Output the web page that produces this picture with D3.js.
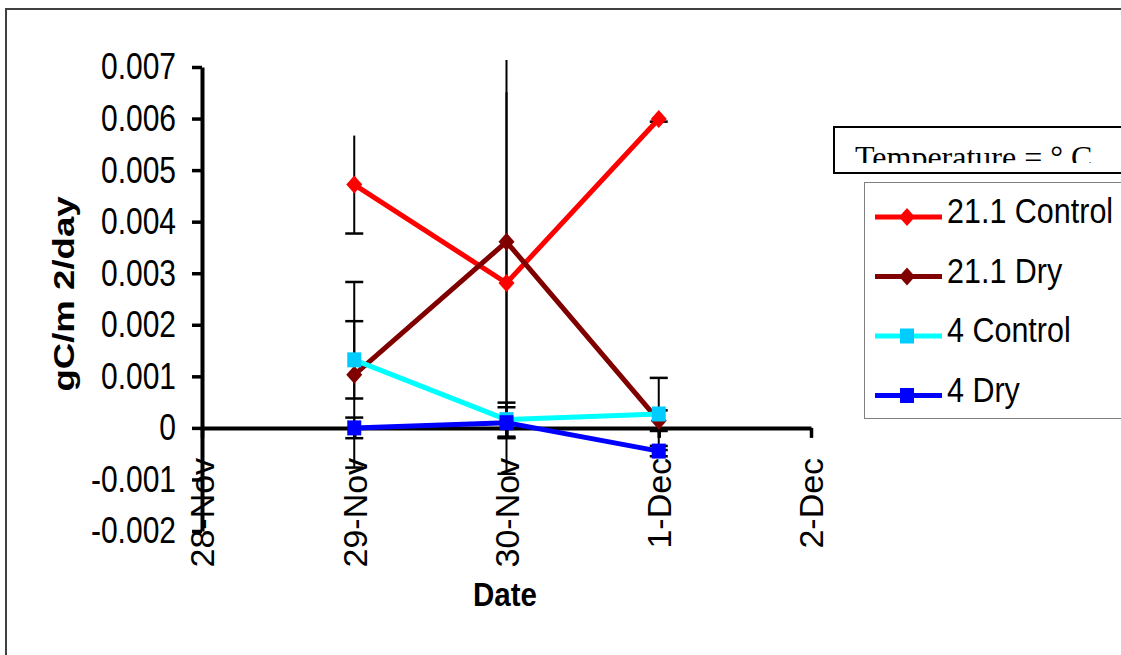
<!DOCTYPE html>
<html>
<head>
<meta charset="utf-8">
<script src="https://cdn.jsdelivr.net/npm/d3@7"></script>
<style>
  body { margin: 0; background: #fff; }
  text { font-family: Arial, "Liberation Sans", sans-serif; fill: #000; }
</style>
</head>
<body>
<div id="chart"></div>
<script>
const dates = ["28-Nov", "29-Nov", "30-Nov", "1-Dec", "2-Dec"];
const pointDates = ["29-Nov", "30-Nov", "1-Dec"];
const seriesNames = ["21.1 Control", "21.1 Dry", "4 Control", "4 Dry"];
const control211 = [0.00472, 0.00281, 0.00599];
const dry211 = [0.00103, 0.00361, 0.00014];
const control4 = [0.00132, 0.00016, 0.00027];
const dry4 = [0.0, 0.0001, -0.00045];
const errControl211 = [0.00095, 0.0037, 0.00005];
const errDry211 = [0.0018, 0.0038, 0.0002];
const errControl4 = [0.00075, 0.00033, 0.0007];
const errDry4 = [0.0002, 0.0003, 0.0001];
const yTicks = [-0.002, -0.001, 0, 0.001, 0.002, 0.003, 0.004, 0.005, 0.006, 0.007];
const legendTitle = "Temperature = \u00b0 C";

const width = 1121;
const height = 655;

// caps: which ends of the error bars get a cap (+1 top, -1 bottom)
const series = [
    { name: seriesNames[0], values: control211, err: errControl211, line: "#ff0000", fill: "#ff0000", shape: "diamond", caps: [-1] },
    { name: seriesNames[1], values: dry211, err: errDry211, line: "#800000", fill: "#800000", shape: "diamond", caps: [1, -1] },
    { name: seriesNames[2], values: control4, err: errControl4, line: "#00ffff", fill: "#00ccff", shape: "square", caps: [1, -1] },
    { name: seriesNames[3], values: dry4, err: errDry4, line: "#0000ff", fill: "#0000ff", shape: "square", caps: [1, -1] },
];

const svg = d3
    .select("#chart")
    .append("svg")
    .attr("width", width)
    .attr("height", height);

// outer frame (runs off the right and bottom edge)
svg.append("rect")
    .attr("x", 6)
    .attr("y", 9)
    .attr("width", 1200)
    .attr("height", 800)
    .attr("fill", "none")
    .attr("stroke", "#404040")
    .attr("stroke-width", 2);

const x = d3.scalePoint().domain(dates).range([202, 811]);
const y = d3.scaleLinear().domain([-0.002, 0.007]).range([531, 67]);

const defs = svg.append("defs");
defs.append("clipPath").attr("id", "plotClip")
    .append("rect").attr("x", 180).attr("y", 60).attr("width", 660).attr("height", 480);
defs.append("clipPath").attr("id", "titleClip")
    .append("rect").attr("x", 834).attr("y", 127).attr("width", 400).attr("height", 36);

// y axis
const yAxisGroup = svg.append("g").attr("transform", "translate(202,0)");
yAxisGroup.call(
    d3.axisLeft(y)
        .tickValues(yTicks)
        .tickSize(10)
        .tickSizeOuter(0)
        .tickPadding(16)
        .tickFormat((d) => (d === 0 ? "0" : String(+d.toFixed(3))))
);
yAxisGroup.select(".domain").attr("stroke-width", 4);
yAxisGroup.selectAll(".tick line").attr("stroke-width", 3.5);
yAxisGroup.selectAll(".tick text")
    .attr("font-size", "30px")
    .attr("font-family", "Arial, 'Liberation Sans', sans-serif")
    .attr("transform", "scale(1,1.24)");

// x axis at zero
const xAxisGroup = svg.append("g").attr("transform", `translate(0,${y(0)})`);
xAxisGroup.call(d3.axisBottom(x).tickSize(10).tickSizeOuter(0));
xAxisGroup.select(".domain").attr("stroke-width", 4);
xAxisGroup.selectAll(".tick line").attr("stroke-width", 3.5);
xAxisGroup.selectAll(".tick text")
    .attr("font-size", "34px")
    .attr("font-family", "Arial, 'Liberation Sans', sans-serif")
    .attr("x", 0)
    .attr("y", 0)
    .attr("dy", "0.35em")
    .attr("text-anchor", "end")
    .attr("transform", "translate(0,30) rotate(-90)");

// axis titles
svg.append("text")
    .text("gC/m 2/day")
    .attr("font-size", "30px")
    .attr("font-weight", "bold")
    .attr("text-anchor", "middle")
    .attr("transform", "translate(74,294) scale(1,1.22) rotate(-90)");

svg.append("text")
    .text("Date")
    .attr("font-size", "29.5px")
    .attr("font-weight", "bold")
    .attr("text-anchor", "middle")
    .attr("transform", "translate(505,606) scale(1,1.14)");

// error bars
const errGroup = svg.append("g").attr("clip-path", "url(#plotClip)");
series.forEach((s) => {
    const pts = pointDates.map((d, i) => ({ date: d, v: s.values[i], e: s.err[i] }));
    errGroup.append("g").selectAll("line").data(pts).enter()
        .append("line")
        .attr("x1", (d) => x(d.date))
        .attr("x2", (d) => x(d.date))
        .attr("y1", (d) => y(d.v + d.e))
        .attr("y2", (d) => y(d.v - d.e))
        .attr("stroke", "#000")
        .attr("stroke-width", 2);
    s.caps.forEach((sign) => {
        errGroup.append("g").selectAll("line").data(pts).enter()
            .append("line")
            .attr("x1", (d) => x(d.date) - 9)
            .attr("x2", (d) => x(d.date) + 9)
            .attr("y1", (d) => y(d.v + sign * d.e))
            .attr("y2", (d) => y(d.v + sign * d.e))
            .attr("stroke", "#000")
            .attr("stroke-width", 2.5);
    });
});

const valueLine = d3.line().x((d) => x(d.date)).y((d) => y(d.v));

const markerPath = function (shape) {
    if (shape === "diamond") return "M0,-9L8,0L0,9L-8,0Z";
    return "M-7,-7.5H7V7.5H-7Z";
};

// lines and markers
series.forEach((s) => {
    const pts = pointDates.map((d, i) => ({ date: d, v: s.values[i] }));
    const g = svg.append("g");
    g.append("path")
        .attr("d", valueLine(pts))
        .attr("fill", "none")
        .attr("stroke", s.line)
        .attr("stroke-width", 5);
    g.selectAll("path.marker").data(pts).enter()
        .append("path")
        .attr("class", "marker")
        .attr("d", markerPath(s.shape))
        .attr("transform", (d) => `translate(${x(d.date)},${y(d.v)})`)
        .attr("fill", s.fill);
});

// legend title box
svg.append("rect")
    .attr("x", 834)
    .attr("y", 127)
    .attr("width", 400)
    .attr("height", 46)
    .attr("fill", "#fff")
    .attr("stroke", "#000")
    .attr("stroke-width", 2);
svg.append("text")
    .text(legendTitle)
    .attr("clip-path", "url(#titleClip)")
    .attr("x", 855)
    .attr("y", 168)
    .attr("font-size", "32px")
    .style("font-family", "'Liberation Serif', 'Times New Roman', serif");

// legend
const legend = svg.append("g");
legend.append("rect")
    .attr("x", 864.5)
    .attr("y", 182.5)
    .attr("width", 400)
    .attr("height", 236)
    .attr("fill", "#fff")
    .attr("stroke", "#808080")
    .attr("stroke-width", 1);

series.forEach((s, i) => {
    const rowY = 217 + i * 59.5;
    legend.append("line")
        .attr("x1", 875)
        .attr("x2", 942)
        .attr("y1", rowY)
        .attr("y2", rowY)
        .attr("stroke", s.line)
        .attr("stroke-width", 5);
    legend.append("path")
        .attr("d", markerPath(s.shape))
        .attr("transform", `translate(907,${rowY})`)
        .attr("fill", s.fill);
    legend.append("text")
        .text(s.name)
        .attr("font-size", "30.5px")
        .attr("transform", `translate(947,${rowY + 6}) scale(1,1.15)`);
});
</script>
</body>
</html>
